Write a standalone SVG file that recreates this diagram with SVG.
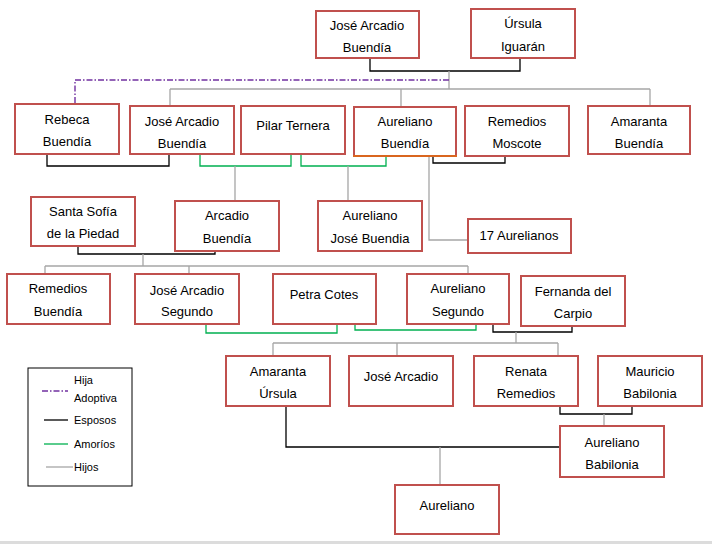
<svg xmlns="http://www.w3.org/2000/svg" width="712" height="544" viewBox="0 0 712 544">
<style>
.box{fill:#fff;stroke:#c0504d;stroke-width:2}
text{font-family:"Liberation Sans",Arial,sans-serif;font-size:13px;fill:#000;text-anchor:middle}
.lg{font-size:11px;text-anchor:start}
.sp{fill:none;stroke:#000;stroke-width:1.3}
.hi{fill:none;stroke:#a6a6a6;stroke-width:1.3}
.am{fill:none;stroke:#00b050;stroke-width:1.3}
.ad{fill:none;stroke:#7030a0;stroke-width:1.4;stroke-dasharray:6 2 1.5 2}
</style>
<rect x="0" y="0" width="712" height="544" fill="#fff"/>
<rect x="0" y="541" width="712" height="3" fill="#dcdcdc"/>
<g id="connectors">
<path class="sp" d="M370 58V71H520V58"/>
<path class="hi" d="M449 71V89M170 89H650M170 89V106M401 89V107M650 89V106"/>
<path class="ad" d="M449 80H75V104"/>
<path class="sp" d="M47 154V166H169V154"/>
<path class="am" d="M200 154V166H291V154"/>
<path class="am" d="M301 154V166H386V156"/>
<path class="hi" d="M235 166V201M348 166V201"/>
<path class="sp" d="M433 156V163H505V156"/>
<path class="hi" d="M429 156V240H467"/>
<path class="sp" d="M78 246V254H215V251"/>
<path class="hi" d="M143 254V266M45 266H468M45 266V274M189 266V274M468 266V274"/>
<path class="am" d="M206 324V333H337V324"/>
<path class="am" d="M355 324V330H476V324"/>
<path class="sp" d="M493 324V332H572V326"/>
<path class="hi" d="M516 332V343M273 343H558M273 343V356M397 343V356M558 343V356"/>
<path class="sp" d="M560 406V414H632V406"/>
<path class="hi" d="M604 414V426"/>
<path class="sp" d="M286 406V447H560"/>
<path class="hi" d="M440 447V485"/>
</g>
<g id="n-jab"><rect class="box" x="316" y="11" width="103" height="47"/><text x="367" y="30">José Arcadio</text><text x="367" y="52">Buendía</text></g>
<g id="n-ursula"><rect class="box" x="471" y="9" width="104" height="49"/><text x="523" y="28">Úrsula</text><text x="523" y="51">Iguarán</text></g>
<g id="n-rebeca"><rect class="box" x="15" y="104" width="104" height="50"/><text x="67" y="124">Rebeca</text><text x="67" y="146">Buendía</text></g>
<g id="n-jab2"><rect class="box" x="130" y="106" width="104" height="48"/><text x="182" y="126">José Arcadio</text><text x="182" y="148">Buendía</text></g>
<g id="n-pilar"><rect class="box" x="241" y="106" width="104" height="48"/><text x="293" y="130">Pilar Ternera</text></g>
<g id="n-aureliano"><rect class="box" x="354" y="107" width="102" height="49"/><line x1="353" y1="156" x2="457" y2="156" stroke="#d9661f" stroke-width="2"/><text x="405" y="126">Aureliano</text><text x="405" y="148">Buendía</text></g>
<g id="n-remedios"><rect class="box" x="465" y="106" width="104" height="50"/><text x="517" y="126">Remedios</text><text x="517" y="148">Moscote</text></g>
<g id="n-amaranta"><rect class="box" x="588" y="106" width="102" height="48"/><text x="639" y="126">Amaranta</text><text x="639" y="148">Buendía</text></g>
<g id="n-santasofia"><rect class="box" x="31" y="197" width="104" height="49"/><text x="83" y="216">Santa Sofía</text><text x="83" y="238">de la Piedad</text></g>
<g id="n-arcadio"><rect class="box" x="175" y="201" width="104" height="50"/><text x="227" y="220">Arcadio</text><text x="227" y="243">Buendía</text></g>
<g id="n-aurelianojose"><rect class="box" x="318" y="201" width="104" height="50"/><text x="370" y="220">Aureliano</text><text x="370" y="243">José Buendia</text></g>
<g id="n-17"><rect class="box" x="468" y="219" width="103" height="34"/><text x="519" y="240">17 Aurelianos</text></g>
<g id="n-remediosb"><rect class="box" x="7" y="274" width="103" height="50"/><text x="58" y="293">Remedios</text><text x="58" y="316">Buendía</text></g>
<g id="n-jas"><rect class="box" x="135" y="274" width="104" height="50"/><text x="187" y="295">José Arcadio</text><text x="187" y="316">Segundo</text></g>
<g id="n-petra"><rect class="box" x="273" y="274" width="103" height="50"/><text x="324" y="299">Petra Cotes</text></g>
<g id="n-aurelianos"><rect class="box" x="407" y="274" width="102" height="50"/><text x="458" y="293">Aureliano</text><text x="458" y="316">Segundo</text></g>
<g id="n-fernanda"><rect class="box" x="521" y="276" width="104" height="50"/><text x="573" y="296">Fernanda del</text><text x="573" y="318">Carpio</text></g>
<g id="n-amarantau"><rect class="box" x="226" y="356" width="104" height="50"/><text x="278" y="376">Amaranta</text><text x="278" y="398">Úrsula</text></g>
<g id="n-josearcadio"><rect class="box" x="349" y="356" width="104" height="50"/><text x="401" y="381">José Arcadio</text></g>
<g id="n-renata"><rect class="box" x="474" y="356" width="104" height="50"/><text x="526" y="376">Renata</text><text x="526" y="398">Remedios</text></g>
<g id="n-mauricio"><rect class="box" x="598" y="356" width="104" height="50"/><text x="650" y="376">Mauricio</text><text x="650" y="398">Babilonia</text></g>
<g id="n-aurelianobab"><rect class="box" x="560" y="426" width="104" height="51"/><text x="612" y="447">Aureliano</text><text x="612" y="469">Babilonia</text></g>
<g id="n-aurelianofin"><rect class="box" x="395" y="485" width="104" height="49"/><text x="447" y="510">Aureliano</text></g>
<g id="legend">
<rect x="28" y="368" width="104" height="118" fill="#fff" stroke="#000" stroke-width="1"/>
<line class="ad" x1="42" y1="391" x2="68" y2="391"/>
<text class="lg" x="74" y="384">Hija</text><text class="lg" x="74" y="402">Adoptiva</text>
<line class="sp" x1="44" y1="420" x2="68" y2="420"/><text class="lg" x="74" y="424">Esposos</text>
<line class="am" x1="44" y1="444" x2="68" y2="444"/><text class="lg" x="74" y="448">Amoríos</text>
<line class="hi" x1="46" y1="467" x2="73" y2="467"/><text class="lg" x="74" y="471">Hijos</text>
</g>
</svg>
